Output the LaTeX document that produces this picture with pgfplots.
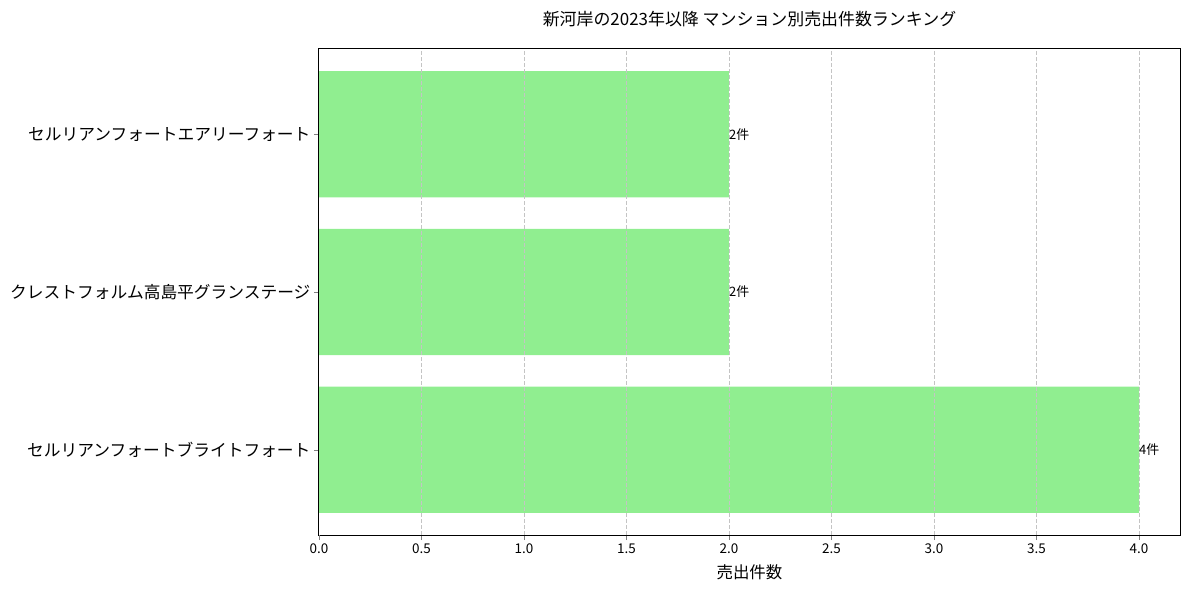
\documentclass[border=0pt]{standalone}
\usepackage{pgfplots}
\pgfplotsset{compat=1.18}
\usepackage{fontspec}
\setmainfont{Noto Sans CJK JP}
\definecolor{barc}{HTML}{90EE90}
\definecolor{gridc}{HTML}{C4C4C4}
\begin{document}
\begin{tikzpicture}[x=1bp,y=1bp]
\begin{axis}[
  scale only axis, width=861bp, height=486bp,
  xmin=0, xmax=4.2, ymin=-0.54, ymax=2.54,
  xbar, bar width=0.8, bar shift=0pt,
  axis on top,
  xtick={0.5,1.0,...,4.0},
  extra x ticks={0}, extra x tick style={grid=none},
  xticklabel style={/pgf/number format/.cd,fixed,fixed zerofill,precision=1},
  /pgf/number format/assume math mode=true,
  ytick={0,1,2},
  yticklabels={セルリアンフォートブライトフォート,クレストフォルム高島平グランステージ,セルリアンフォートエアリーフォート},
  tick label style={font=\fontsize{13.5}{14}\selectfont},
  yticklabel style={font=\fontsize{16.8}{17}\selectfont},
  tick align=outside, major tick length=5bp,
  xtick pos=bottom, ytick pos=left,
  xmajorgrids, major x grid style={gridc, dash pattern=on 4bp off 2bp, line width=0.8bp},
  axis line style={line width=1bp},
  title={新河岸の2023年以降 マンション別売出件数ランキング},
  title style={font=\fontsize{17}{18}\selectfont, yshift=13bp},
  xlabel={売出件数},
  xlabel style={font=\fontsize{16.5}{17}\selectfont, yshift=6bp},
  point meta=explicit symbolic,
  nodes near coords,
  nodes near coords style={font=\fontsize{13}{14}\selectfont, inner sep=0pt, anchor=west, black},
]
\addplot[fill=barc, draw=none] coordinates {(4,0) [4件] (2,1) [2件] (2,2) [2件]};
\end{axis}
\path ([shift={(-319bp,-54bp)}]current axis.south west) rectangle ([shift={(9bp,49bp)}]current axis.north east);
\end{tikzpicture}
\end{document}
